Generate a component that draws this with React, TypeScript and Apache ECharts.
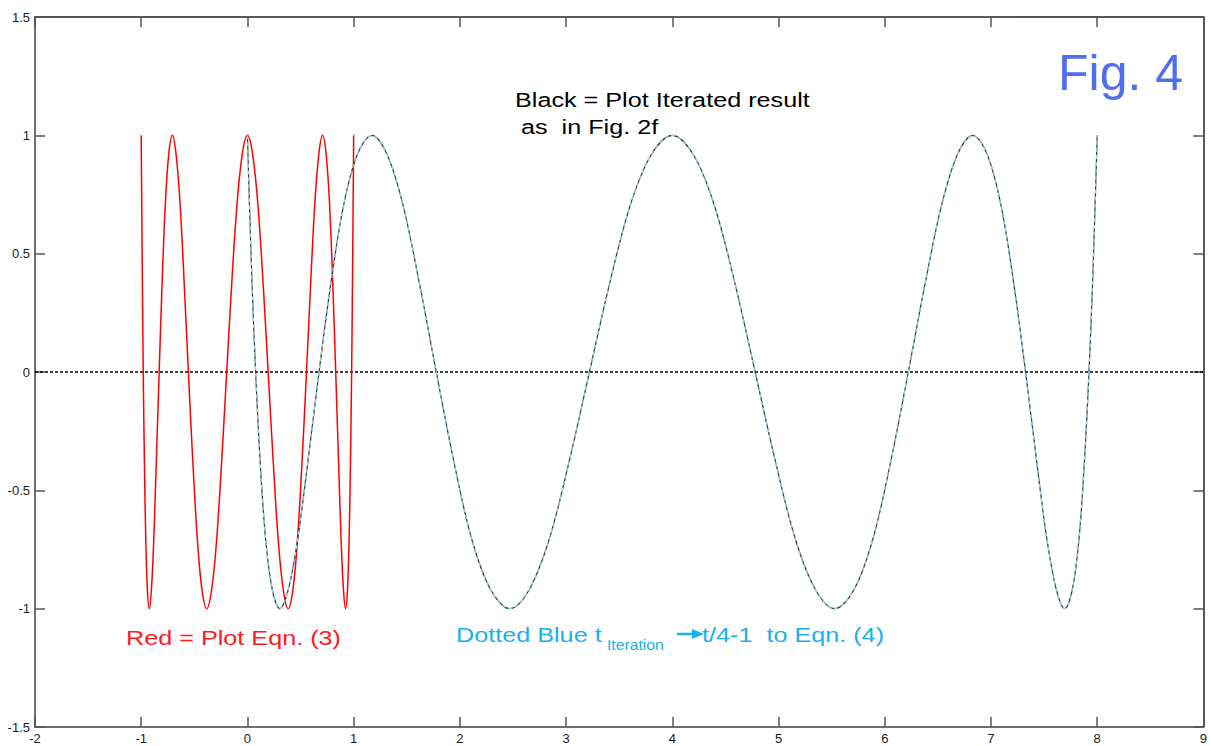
import React, { useEffect, useRef } from "react";
import * as echarts from "echarts";

// Red curve: Eqn. (3) sampled on [-1, 1]
const redX = [
  -1, -0.999, -0.995, -0.989, -0.981, -0.97, -0.957, -0.942, -0.924, -0.904, -0.882, -0.858, -0.831, -0.803, -0.773, -0.741,
  -0.707, -0.672, -0.634, -0.596, -0.556, -0.514, -0.471, -0.428, -0.383, -0.337, -0.29, -0.243, -0.195, -0.147, -0.098, -0.049,
  0, 0.049, 0.098, 0.147, 0.195, 0.243, 0.29, 0.337, 0.383, 0.428, 0.471, 0.514, 0.556, 0.596, 0.634, 0.672,
  0.707, 0.741, 0.773, 0.803, 0.831, 0.858, 0.882, 0.904, 0.924, 0.942, 0.957, 0.97, 0.981, 0.989, 0.995, 0.999, 1,
];
const redY = [
  1, 0.92, 0.71, 0.38, 0, -0.38, -0.71, -0.92, -1, -0.92, -0.71, -0.38, 0, 0.38, 0.71, 0.92,
  1, 0.92, 0.71, 0.38, 0, -0.38, -0.71, -0.92, -1, -0.92, -0.71, -0.38, 0, 0.38, 0.71, 0.92,
  1, 0.92, 0.71, 0.38, 0, -0.38, -0.71, -0.92, -1, -0.92, -0.71, -0.38, 0, 0.38, 0.71, 0.92,
  1, 0.92, 0.71, 0.38, 0, -0.38, -0.71, -0.92, -1, -0.92, -0.71, -0.38, 0, 0.38, 0.71, 0.92, 1,
];

// Black (iterated result) / dotted blue curve on [0, 8]
const blackT = [
  0, 0.005, 0.019, 0.043, 0.077, 0.12, 0.172, 0.234, 0.304, 0.384, 0.472, 0.569, 0.674, 0.787, 0.908, 1.036,
  1.172, 1.314, 1.462, 1.617, 1.778, 1.944, 2.114, 2.29, 2.469, 2.652, 2.839, 3.028, 3.22, 3.413, 3.608, 3.804,
  4, 4.196, 4.392, 4.587, 4.78, 4.972, 5.161, 5.348, 5.531, 5.71, 5.886, 6.056, 6.222, 6.383, 6.538, 6.686,
  6.828, 6.964, 7.092, 7.213, 7.326, 7.431, 7.528, 7.616, 7.696, 7.766, 7.828, 7.88, 7.923, 7.957, 7.981, 7.995, 8,
];
const blackY = [
  1, 0.92, 0.71, 0.38, 0, -0.38, -0.71, -0.92, -1, -0.92, -0.71, -0.38, 0, 0.38, 0.71, 0.92,
  1, 0.92, 0.71, 0.38, 0, -0.38, -0.71, -0.92, -1, -0.92, -0.71, -0.38, 0, 0.38, 0.71, 0.92,
  1, 0.92, 0.71, 0.38, 0, -0.38, -0.71, -0.92, -1, -0.92, -0.71, -0.38, 0, 0.38, 0.71, 0.92,
  1, 0.92, 0.71, 0.38, 0, -0.38, -0.71, -0.92, -1, -0.92, -0.71, -0.38, 0, 0.38, 0.71, 0.92, 1,
];

const zeroLineX = [-2, 9];
const zeroLineY = [0, 0];

const xMin = -2, xMax = 9, xStep = 1;
const yMin = -1.5, yMax = 1.5, yStep = 0.5;

const FONT = "'Liberation Sans', Arial, sans-serif";

export default function App() {
  const ref = useRef<HTMLDivElement>(null);
  useEffect(() => {
    if (!ref.current) return;
    const chart = echarts.init(ref.current, undefined, { renderer: "svg" });
    const pair = (xs: number[], ys: number[]) => xs.map((x, i) => [x, ys[i]]);
    const labelStyle = { fontFamily: FONT, fontSize: 13, color: "#1a1a1a" };
    const axisLineMain = { show: true, onZero: false, lineStyle: { color: "#6e6e6e", width: 2 } };
    const axisLineSec = { show: true, onZero: false, lineStyle: { color: "#222", width: 1.5 } };
    const tick = { show: true, inside: true, length: 10, lineStyle: { color: "#555", width: 1.5 } };
    const option: any = {
      animation: false,
      backgroundColor: "#fff",
      grid: { left: 35, right: 5, top: 17, bottom: 19, containLabel: false },
      xAxis: [
        {
          type: "value", min: xMin, max: xMax, interval: xStep, position: "bottom",
          axisLine: axisLineMain, axisTick: tick, splitLine: { show: false },
          axisLabel: { ...labelStyle, margin: 5 },
        },
        {
          type: "value", min: xMin, max: xMax, interval: xStep, position: "top",
          axisLine: axisLineSec, axisTick: tick, splitLine: { show: false },
          axisLabel: { show: false },
        },
      ],
      yAxis: [
        {
          type: "value", min: yMin, max: yMax, interval: yStep, position: "left",
          axisLine: axisLineMain, axisTick: tick, splitLine: { show: false },
          axisLabel: { ...labelStyle, margin: 5 },
        },
        {
          type: "value", min: yMin, max: yMax, interval: yStep, position: "right",
          axisLine: axisLineSec, axisTick: tick, splitLine: { show: false },
          axisLabel: { show: false },
        },
      ],
      series: [
        {
          type: "line", data: pair(zeroLineX, zeroLineY), showSymbol: false, silent: true,
          lineStyle: { color: "#000", width: 1.3, type: [3, 2] },
        },
        {
          type: "line", data: pair(redX, redY), showSymbol: false, smooth: 0.35, silent: true,
          lineStyle: { color: "#ff0000", width: 1.5 },
        },
        {
          type: "line", data: pair(blackT, blackY), showSymbol: false, smooth: 0.35, silent: true,
          lineStyle: { color: "#333", width: 1.2 },
        },
        {
          type: "line", data: pair(blackT, blackY), showSymbol: false, smooth: 0.35, silent: true,
          lineStyle: { color: "#9ad8ee", width: 1.2, type: [4, 3] },
        },
      ],
      graphic: [
        {
          type: "text", x: 1058, y: 73,
          style: { text: "Fig. 4", font: `50px ${FONT}`, fill: "#4f6ef2", align: "left", verticalAlign: "middle" },
        },
        {
          type: "text", x: 515, y: 100, scaleX: 1.2,
          style: { text: "Black = Plot Iterated result", font: `21px ${FONT}`, fill: "#000", align: "left", verticalAlign: "middle" },
        },
        {
          type: "text", x: 521, y: 127, scaleX: 1.2,
          style: { text: "as  in Fig. 2f", font: `21px ${FONT}`, fill: "#000", align: "left", verticalAlign: "middle" },
        },
        {
          type: "text", x: 126, y: 637.5, scaleX: 1.2,
          style: { text: "Red = Plot Eqn. (3)", font: `21px ${FONT}`, fill: "#ff1a1a", align: "left", verticalAlign: "middle" },
        },
        {
          type: "text", x: 456, y: 634.5, scaleX: 1.2,
          style: { text: "Dotted Blue t", font: `21px ${FONT}`, fill: "#1ab0ea", align: "left", verticalAlign: "middle" },
        },
        {
          type: "text", x: 607, y: 645, scaleX: 1.05,
          style: { text: "Iteration", font: `15px ${FONT}`, fill: "#1ab0ea", align: "left", verticalAlign: "middle" },
        },
        {
          type: "line", shape: { x1: 677, y1: 634, x2: 696, y2: 634 },
          style: { stroke: "#1ab0ea", lineWidth: 2.5 },
        },
        {
          type: "polygon", shape: { points: [[692, 629], [704, 634], [692, 639]] },
          style: { fill: "#1ab0ea" },
        },
        {
          type: "text", x: 702, y: 634.5, scaleX: 1.2,
          style: { text: "t/4-1  to Eqn. (4)", font: `21px ${FONT}`, fill: "#1ab0ea", align: "left", verticalAlign: "middle" },
        },
      ],
    };
    chart.setOption(option);
    return () => chart.dispose();
  }, []);
  return (
    <div
      ref={ref}
      style={{ position: "fixed", left: 0, top: 0, width: 1210, height: 746, background: "#fff" }}
    />
  );
}
